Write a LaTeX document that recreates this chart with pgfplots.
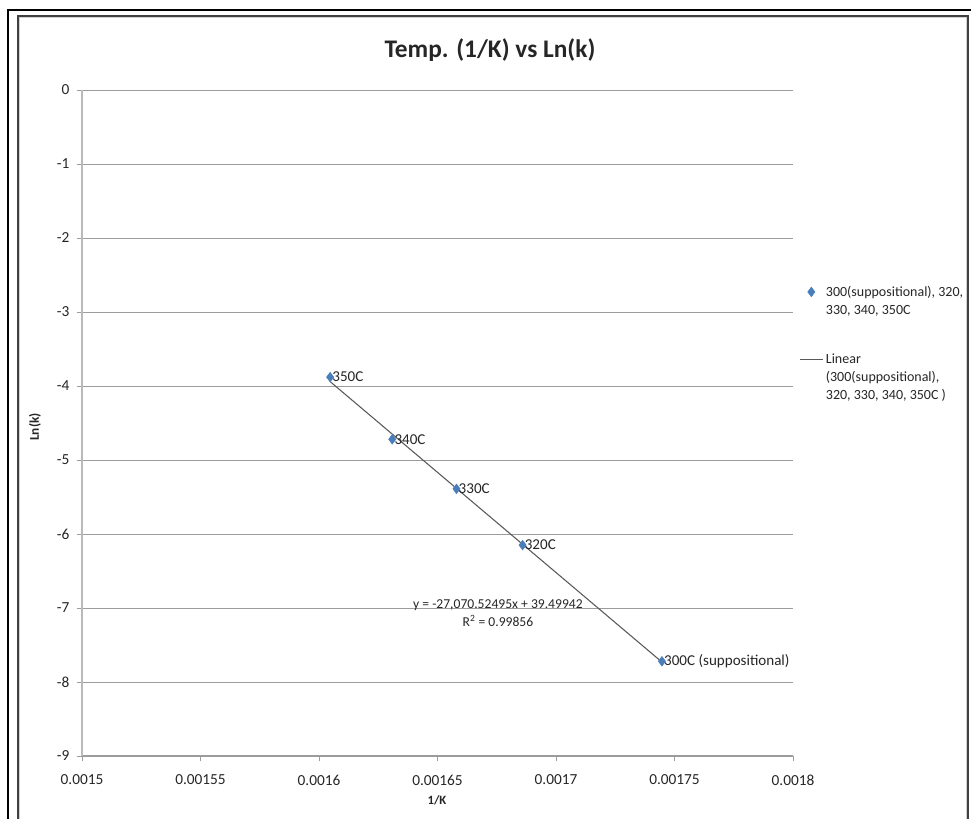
\documentclass[border=0pt]{standalone}
\usepackage{pgfplots}
\pgfplotsset{compat=1.18}
\usepackage{fontspec}
\setmainfont{Carlito}
\definecolor{exblue}{HTML}{4A7EBB}
\definecolor{trend}{HTML}{595959}
\definecolor{gridc}{HTML}{9C9C9C}
\definecolor{txt}{HTML}{262626}
\begin{document}
\begin{tikzpicture}[x=0.75pt,y=0.75pt]
\useasboundingbox (0,0) rectangle (971,818);
% frame
\draw[line width=1.3pt, black] (8,-5) -- (8,808) -- (985,808);
\draw[line width=1.2pt, gray!35] (19.5,-5) -- (19.5,800.5) -- (966.5,800.5) -- (966.5,-5);
\draw[line width=1.1pt, black!75] (18,-5) -- (18,802) -- (968,802) -- (968,-5);
\node[font=\bfseries\fontsize{19}{22}\selectfont, text=txt] at (490,768) {Temp. (1/K) vs Ln(k)};
\node[rotate=90, font=\bfseries\fontsize{10}{12}\selectfont, text=txt] at (35,391) {Ln(k)};
\node[font=\bfseries\fontsize{9.5}{11}\selectfont, text=txt] at (437,18) {1/K};
\begin{axis}[
  at={(61.5pt,46.5pt)}, anchor=south west,
  scale only axis, width=533.25pt, height=499.5pt,
  xmin=0.0015, xmax=0.0018, ymin=-9, ymax=0,
  scaled x ticks=false, scaled y ticks=false,
  xtick={0.0015,0.00155,0.0016,0.00165,0.0017,0.00175,0.0018},
  xticklabels={0.0015,0.00155,0.0016,0.00165,0.0017,0.00175,0.0018},
  ytick={-9,-8,-7,-6,-5,-4,-3,-2,-1,0},
  yticklabels={-9,-8,-7,-6,-5,-4,-3,-2,-1,0},
  axis x line=bottom, axis y line=left,
  axis line style={-, draw=gridc!70, line width=0.8pt},
  x axis line style={draw=gridc},
  tick style={draw=gridc, line width=0.6pt},
  tick align=outside, major tick length=4pt,
  ymajorgrids, grid style={draw=gridc, line width=0.7pt},
  ticklabel style={font=\fontsize{11.5}{13}\selectfont, text=txt},
  xticklabel style={yshift=-6.5pt},
  yticklabel style={xshift=-2pt},
  legend style={draw=none, fill=none, at={(1.003,0.714)}, anchor=north west,
    font=\fontsize{10.5}{13.5}\selectfont, text=txt, row sep=38pt,
    nodes={anchor=base west}},
  legend image post style={yshift=3.3pt},
  legend cell align=left,
  clip=false,
]
\addplot[only marks, mark=diamond*, mark size=3.6pt, color=exblue,
  nodes near coords, point meta=explicit symbolic,
  nodes near coords style={anchor=west, font=\fontsize{11.3}{13}\selectfont, text=txt, inner sep=1.5pt}]
  table[meta=label, col sep=comma, row sep=\\] {
x,y,label\\
0.0016047,-3.88,350C\\
0.0016309,-4.72,340C\\
0.0016580,-5.39,330C\\
0.0016859,-6.15,320C\\
0.0017447,-7.72,300C (suppositional)\\
};
\addlegendentry{\vtop{\hbox{300(suppositional), 320,}\hbox{330, 340, 350C}}}
\addplot[trend, line width=0.8pt, no marks] coordinates {(0.0016047,-3.9406) (0.0017447,-7.7305)};
\addlegendentry{\vtop{\hbox{Linear}\hbox{(300(suppositional),}\hbox{320, 330, 340, 350C )}}}
\node[font=\fontsize{10.2}{13.5}\selectfont, text=txt, align=center] at (axis cs:0.0016755,-7.07) {y = -27,070.52495x + 39.49942\\R\textsuperscript{2} = 0.99856};
\end{axis}
\end{tikzpicture}
\end{document}
